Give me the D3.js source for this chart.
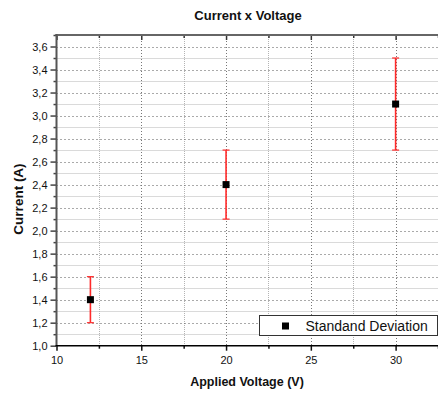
<!DOCTYPE html>
<html>
<head>
<meta charset="utf-8">
<script src="https://cdn.jsdelivr.net/npm/d3@7"></script>
<style>
  html, body { margin: 0; padding: 0; background: #fff; }
  svg { display: block; }
  text { font-family: "Liberation Sans", Arial, sans-serif; }
</style>
</head>
<body>
<svg id="chart" width="438" height="394"></svg>
<script>
// Measured current at each applied voltage, with its standard deviation
const voltage = [12, 20, 30];
const current = [1.4, 2.4, 3.1];
const stdDev  = [0.2, 0.3, 0.4];

// Axis ticks
const xMajor = [10, 15, 20, 25, 30];
const xMinor = [12.5, 17.5, 22.5, 27.5, 32.5];
const yMajor = [1.0, 1.2, 1.4, 1.6, 1.8, 2.0, 2.2, 2.4, 2.6, 2.8, 3.0, 3.2, 3.4, 3.6];
const yMinor = [1.1, 1.3, 1.5, 1.7, 1.9, 2.1, 2.3, 2.5, 2.7, 2.9, 3.1, 3.3, 3.5, 3.7];

const svg = d3.select("#chart");
const plotL = 56.5, plotR = 438, plotT = 35, plotB = 345.7;

const x = d3.scaleLinear().domain([10, 32.5]).range([plotL, plotR]);
const y = d3.scaleLinear().domain([1.0, 3.7]).range([plotB, plotT]);
const fmt = d => d.toFixed(1).replace(".", ",");

// Grid: minor lines first, then major
const grid = svg.append("g");
grid.selectAll("line.hmin").data(yMinor).join("line")
  .attr("x1", plotL).attr("x2", plotR)
  .attr("y1", d => Math.round(y(d)) + 0.5).attr("y2", d => Math.round(y(d)) + 0.5)
  .attr("stroke", "#b4b4b4").attr("stroke-width", 1).attr("stroke-dasharray", "1,1");
grid.selectAll("line.vmin").data(xMinor).join("line")
  .attr("x1", d => Math.round(x(d)) + 0.5).attr("x2", d => Math.round(x(d)) + 0.5)
  .attr("y1", plotT).attr("y2", plotB)
  .attr("stroke", "#b4b4b4").attr("stroke-width", 1).attr("stroke-dasharray", "1,1");
grid.selectAll("line.hmaj").data(yMajor.slice(1)).join("line")
  .attr("x1", plotL).attr("x2", plotR)
  .attr("y1", d => Math.round(y(d)) + 0.5).attr("y2", d => Math.round(y(d)) + 0.5)
  .attr("stroke", "#555").attr("stroke-width", 1).attr("stroke-dasharray", "1,3");
grid.selectAll("line.vmaj").data(xMajor.slice(1)).join("line")
  .attr("x1", d => Math.round(x(d)) + 0.5).attr("x2", d => Math.round(x(d)) + 0.5)
  .attr("y1", plotT).attr("y2", plotB)
  .attr("stroke", "#777").attr("stroke-width", 1).attr("stroke-dasharray", "1,2");

// Axes
function styleAxis(g, color, width) {
  g.select(".domain").remove();
  g.selectAll(".tick line").attr("stroke", color).attr("stroke-width", width);
}

// Left axis: major ticks with labels, minor ticks without
const yAxisMaj = svg.append("g").attr("transform", `translate(${plotL},0)`)
  .call(d3.axisLeft(y).tickValues(yMajor).tickSize(6).tickSizeOuter(0).tickPadding(3).tickFormat(fmt));
styleAxis(yAxisMaj, "#444", 1.5);
yAxisMaj.selectAll("text").attr("font-size", 11).attr("fill", "#111")
  .attr("font-family", "Liberation Sans, Arial, sans-serif");
const yAxisMin = svg.append("g").attr("transform", `translate(${plotL},0)`)
  .call(d3.axisLeft(y).tickValues(yMinor).tickSize(3).tickSizeOuter(0).tickFormat(""));
styleAxis(yAxisMin, "#444", 1.5);

// Bottom axis
const xAxisMaj = svg.append("g").attr("transform", `translate(0,${plotB})`)
  .call(d3.axisBottom(x).tickValues(xMajor).tickSize(5).tickSizeOuter(0).tickPadding(6));
styleAxis(xAxisMaj, "#111", 1.5);
xAxisMaj.selectAll("text").attr("font-size", 11).attr("fill", "#111")
  .attr("font-family", "Liberation Sans, Arial, sans-serif");
const xAxisMin = svg.append("g").attr("transform", `translate(0,${plotB})`)
  .call(d3.axisBottom(x).tickValues(xMinor).tickSize(3).tickSizeOuter(0).tickFormat(""));
styleAxis(xAxisMin, "#111", 1.5);

// Top axis: inward ticks, no labels
const xTopMaj = svg.append("g").attr("transform", `translate(0,${plotT})`)
  .call(d3.axisTop(x).tickValues(xMajor).tickSize(-5).tickSizeOuter(0).tickFormat(""));
styleAxis(xTopMaj, "#333", 1.5);
const xTopMin = svg.append("g").attr("transform", `translate(0,${plotT})`)
  .call(d3.axisTop(x).tickValues(xMinor).tickSize(-3).tickSizeOuter(0).tickFormat(""));
styleAxis(xTopMin, "#333", 1.5);

// Frame lines
svg.append("line").attr("x1", plotL - 1).attr("x2", plotR).attr("y1", plotT).attr("y2", plotT)
  .attr("stroke", "#666").attr("stroke-width", 2);
svg.append("line").attr("x1", plotL).attr("x2", plotL).attr("y1", plotT - 1).attr("y2", plotB + 1)
  .attr("stroke", "#555").attr("stroke-width", 2);
svg.append("line").attr("x1", plotL - 1).attr("x2", plotR).attr("y1", plotB).attr("y2", plotB)
  .attr("stroke", "#000").attr("stroke-width", 1.5);

// Error bars
const pts = voltage.map((v, i) => ({ v, c: current[i], s: stdDev[i] }));
const err = svg.append("g").attr("stroke", "#ff2a2a");
err.selectAll("line.bar").data(pts).join("line")
  .attr("x1", d => x(d.v)).attr("x2", d => x(d.v))
  .attr("y1", d => y(d.c + d.s)).attr("y2", d => y(d.c - d.s))
  .attr("stroke-width", 1.6);
err.selectAll("line.capTop").data(pts).join("line")
  .attr("x1", d => x(d.v) - 3.5).attr("x2", d => x(d.v) + 3.5)
  .attr("y1", d => y(d.c + d.s)).attr("y2", d => y(d.c + d.s))
  .attr("stroke-width", 1.2);
err.selectAll("line.capBot").data(pts).join("line")
  .attr("x1", d => x(d.v) - 3.5).attr("x2", d => x(d.v) + 3.5)
  .attr("y1", d => y(d.c - d.s)).attr("y2", d => y(d.c - d.s))
  .attr("stroke-width", 1.2);

// Square markers
const size = 7;
svg.append("g").selectAll("rect").data(pts).join("rect")
  .attr("x", d => x(d.v) - size / 2).attr("y", d => y(d.c) - size / 2)
  .attr("width", size).attr("height", size).attr("fill", "#000");

// Legend
const lg = svg.append("g");
lg.append("rect").attr("x", 259.5).attr("y", 315.5).attr("width", 178).attr("height", 20)
  .attr("fill", "#fff").attr("stroke", "#333").attr("stroke-width", 1);
lg.append("rect").attr("x", 282).attr("y", 322.5).attr("width", size).attr("height", size).attr("fill", "#000");
lg.append("text").attr("x", 305.5).attr("y", 331).attr("font-size", 14).attr("fill", "#111")
  .text("Standand Deviation");

// Titles
svg.append("text").attr("x", 248).attr("y", 20).attr("text-anchor", "middle")
  .attr("font-size", 13).attr("font-weight", "bold").attr("fill", "#111").text("Current x Voltage");
svg.append("text").attr("x", 247).attr("y", 386).attr("text-anchor", "middle")
  .attr("font-size", 12.5).attr("font-weight", "bold").attr("fill", "#111").text("Applied Voltage (V)");
svg.append("text").attr("transform", "translate(23,199) rotate(-90)").attr("text-anchor", "middle")
  .attr("font-size", 13.5).attr("font-weight", "bold").attr("fill", "#111").text("Current (A)");
</script>
</body>
</html>
